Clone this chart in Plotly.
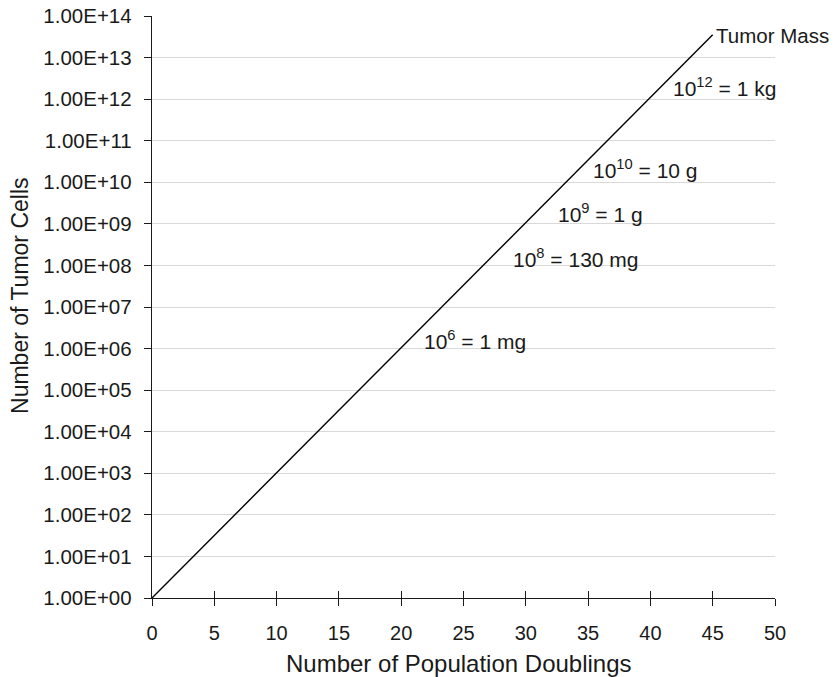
import plotly.graph_objects as go

# Data
doublings = list(range(0, 46))
tumor_cells = [
    1, 2, 4, 8, 16, 32, 64, 128, 256, 512,
    1024, 2048, 4096, 8192, 16384, 32768, 65536, 131072, 262144, 524288,
    1048576, 2097152, 4194304, 8388608, 16777216, 33554432, 67108864,
    134217728, 268435456, 536870912, 1073741824, 2147483648, 4294967296,
    8589934592, 17179869184, 34359738368, 68719476736, 137438953472,
    274877906944, 549755813888, 1099511627776, 2199023255552,
    4398046511104, 8796093022208, 17592186044416, 35184372088832,
]

y_tickvals = [1e0, 1e1, 1e2, 1e3, 1e4, 1e5, 1e6, 1e7, 1e8, 1e9, 1e10, 1e11, 1e12, 1e13, 1e14]
y_ticktext = ["1.00E+00", "1.00E+01", "1.00E+02", "1.00E+03", "1.00E+04", "1.00E+05",
              "1.00E+06", "1.00E+07", "1.00E+08", "1.00E+09", "1.00E+10", "1.00E+11",
              "1.00E+12", "1.00E+13", "1.00E+14"]
x_tickvals = [0, 5, 10, 15, 20, 25, 30, 35, 40, 45, 50]

label_texts = ["Tumor Mass", "10<sup>12</sup> = 1 kg", "10<sup>10</sup> = 10 g",
               "10<sup>9</sup> = 1 g", "10<sup>8</sup> = 130 mg", "10<sup>6</sup> = 1 mg"]
label_x = [45.3, 41.8, 35.4, 32.6, 29.0, 21.8]
label_y = [13.52, 12.29, 10.32, 9.26, 8.18, 6.21]
label_size = [20.5, 21, 21, 21, 21, 21]

x_title = "Number of Population Doublings"
y_title = "Number of Tumor Cells"

FONT = "Liberation Sans, Arial, sans-serif"
TXT = "#1a1a1a"

fig = go.Figure()
fig.add_trace(go.Scatter(x=doublings, y=tumor_cells, mode="lines",
                         line=dict(color="black", width=1.4), showlegend=False,
                         hoverinfo="skip"))
# invisible trace to activate overlaid x axis (inside ticks)
fig.add_trace(go.Scatter(x=[0, 50], y=[1, 1], xaxis="x2", mode="lines",
                         line=dict(width=0), opacity=0, showlegend=False, hoverinfo="skip"))

for t, xv, yv, sz in zip(label_texts, label_x, label_y, label_size):
    fig.add_annotation(x=xv, y=yv, text=t, showarrow=False, xanchor="left", yanchor="middle",
                       xshift=-2, font=dict(family=FONT, size=sz, color=TXT))

# axis titles as annotations for precise placement
fig.add_annotation(xref="paper", yref="paper", x=0.4925, y=-0.1117, text=x_title,
                   showarrow=False, xanchor="center", yanchor="middle",
                   font=dict(family=FONT, size=24, color=TXT))
fig.add_annotation(xref="paper", yref="paper", x=0, xshift=-132, y=0.519, text=y_title,
                   showarrow=False, xanchor="center", yanchor="middle", textangle=-90,
                   font=dict(family=FONT, size=23, color=TXT))

fig.update_layout(
    width=830, height=669,
    margin=dict(l=144, r=63, t=8, b=79),
    paper_bgcolor="white", plot_bgcolor="white",
    font=dict(family=FONT, color=TXT),
    xaxis=dict(range=[0, 50], tickvals=x_tickvals, ticks="outside", ticklen=7, tickwidth=1.2,
               tickcolor=TXT, showline=True, linecolor=TXT, linewidth=1.4,
               showgrid=False, zeroline=False, tickfont=dict(size=20), automargin=False,
               ticklabelstandoff=10, ticklabeloverflow="allow"),
    xaxis2=dict(range=[0, 50], overlaying="x", side="bottom", tickvals=x_tickvals,
                ticks="inside", ticklen=7, tickwidth=1.2, tickcolor=TXT,
                showticklabels=False, showgrid=False, zeroline=False, showline=False,
                automargin=False),
    yaxis=dict(type="log", range=[0, 14], tickvals=y_tickvals, ticktext=y_ticktext,
               ticks="outside", ticklen=7, tickwidth=1.2, tickcolor=TXT,
               showline=True, linecolor=TXT, linewidth=1.4,
               showgrid=True, gridcolor="#d9d9d9", gridwidth=1, zeroline=False,
               tickfont=dict(size=20.5), ticklabelstandoff=8, automargin=False,
               ticklabeloverflow="allow"),
)

fig.write_html("out.html")
